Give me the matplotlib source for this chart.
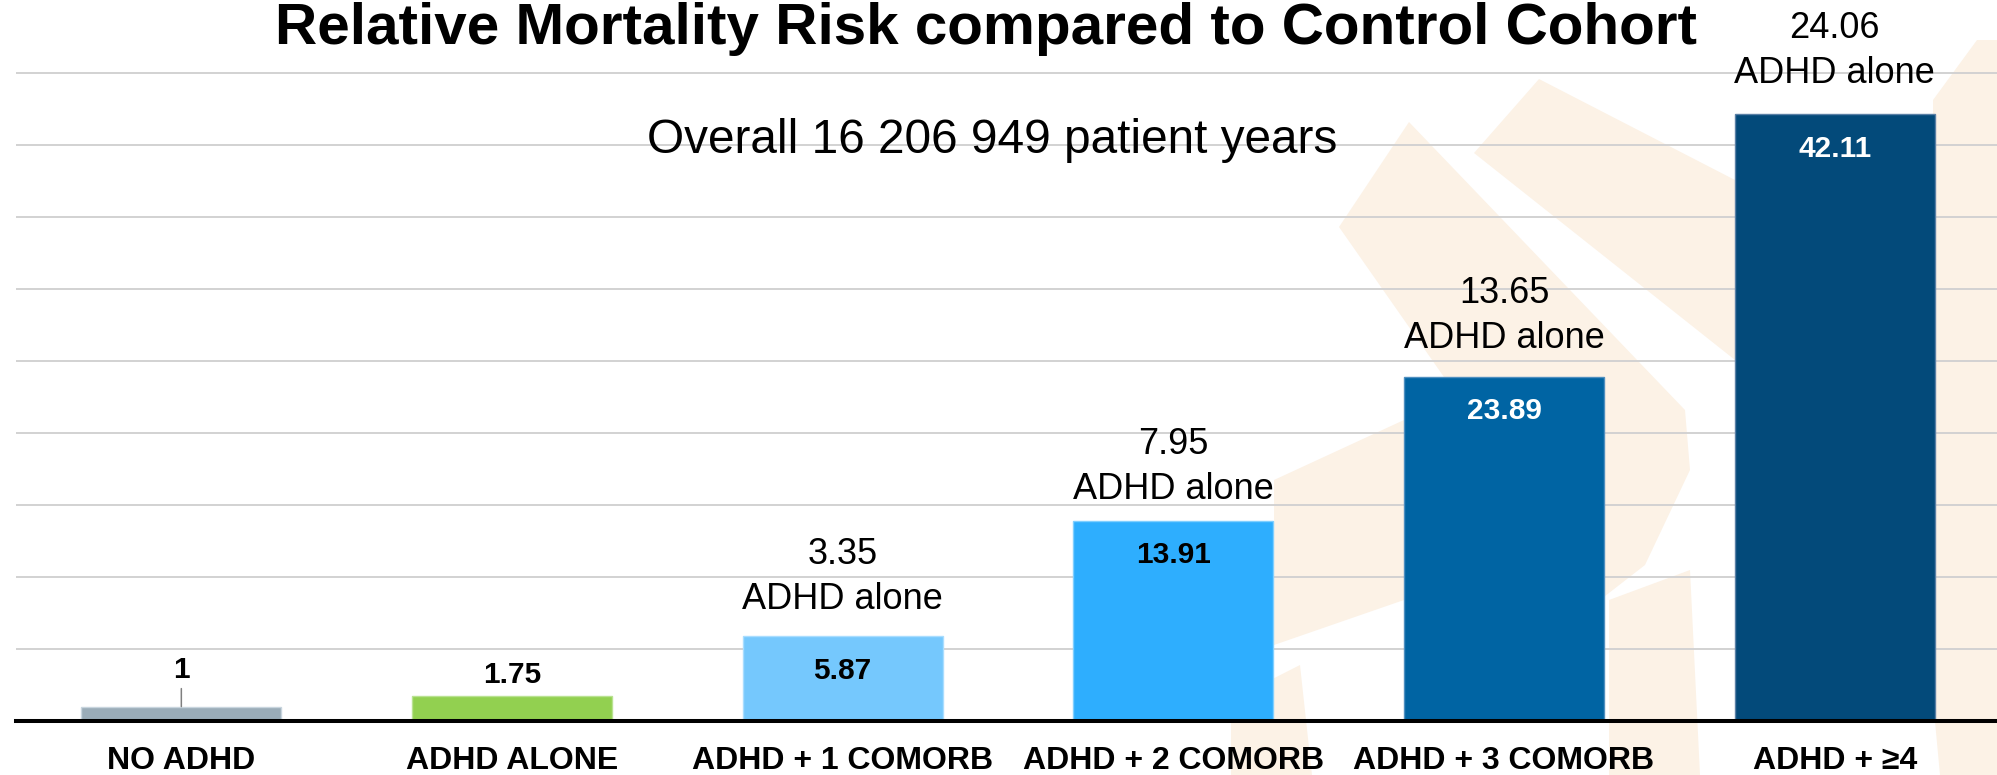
import matplotlib
matplotlib.use("Agg")
import matplotlib.pyplot as plt
from matplotlib.patches import Polygon

# ---------------- data ----------------
categories = ["NO ADHD", "ADHD ALONE", "ADHD + 1 COMORB", "ADHD + 2 COMORB",
              "ADHD + 3 COMORB", "ADHD + \u22654"]
relative_risk = [1.0, 1.75, 5.87, 13.91, 23.89, 42.11]
risk_labels = ["1", "1.75", "5.87", "13.91", "23.89", "42.11"]
adhd_alone_ratio = [None, None, "3.35", "7.95", "13.65", "24.06"]
title_text = "Relative Mortality Risk compared to Control Cohort"
subtitle_text = "Overall 16 206 949 patient years"
grid_ticks = [5, 10, 15, 20, 25, 30, 35, 40, 45]

# ---------------- style ----------------
bar_colors = ["#9aacb8", "#92d050", "#75c8fd", "#2eaefe", "#0064a3", "#034a7a"]
edge_colors = ["#c8d5de", "#b9e291", "#a9ddff", "#80cfff", "#4f8fc0", "#5a80a6"]
inside_text_colors = ["black", "black", "black", "black", "white", "white"]
FONT = ["Liberation Sans", "Arial", "DejaVu Sans"]
plt.rcParams["font.family"] = FONT

W, H = 1997, 775
fig = plt.figure(figsize=(W / 100, H / 100), dpi=100)
fig.patch.set_facecolor("white")

# faint background watermark (decorative), drawn in a pixel-space background axes
bg = fig.add_axes([0, 0, 1, 1], zorder=-1)
bg.set_xlim(0, W)
bg.set_ylim(H, 0)
bg.axis("off")
wm_color = "#fcf2e6"
wm_shapes = [
    [(1409, 122), (1339, 227), (1600, 600), (1645, 565), (1690, 470), (1685, 410)],
    [(1539, 79), (1474, 153), (1735, 360), (1735, 180)],
    [(1933, 100), (1977, 40), (1997, 40), (1997, 775), (1940, 775), (1933, 700)],
    [(1609, 600), (1690, 570), (1700, 775), (1609, 775)],
    [(1274, 480), (1404, 420), (1404, 600), (1274, 645)],
    [(1231, 700), (1300, 665), (1312, 775), (1231, 775)],
]
for shp in wm_shapes:
    bg.add_patch(Polygon(shp, closed=True, facecolor=wm_color, edgecolor="none"))

# axes geometry (pixel based)
base_y = 721.0
scale = 14.41          # px per unit
ytop = 45.2
left_px, right_px = 16, 2000
ax = fig.add_axes([left_px / W, 1 - base_y / H,
                   (right_px - left_px) / W, ytop * scale / H], zorder=1)
ax.set_facecolor("none")
ax.set_xlim(-0.5, len(categories) - 0.5)
ax.set_ylim(0, ytop)

x = list(range(len(categories)))
bars = ax.bar(x, relative_risk, width=0.605, color=bar_colors,
              edgecolor=edge_colors, linewidth=1.0, zorder=3)

ax.set_yticks(grid_ticks)
ax.set_yticklabels([])
ax.yaxis.grid(True, color="#d2d2d2", linewidth=1.4, zorder=1)
ax.set_axisbelow(True)
ax.tick_params(axis="y", length=0)
for s in ["left", "right", "top"]:
    ax.spines[s].set_visible(False)
ax.spines["bottom"].set_linewidth(2.9)
ax.spines["bottom"].set_color("black")
ax.spines["bottom"].set_zorder(5)

ax.set_xticks(x)
ax.set_xticklabels(categories, fontsize=23, fontweight="bold", family=FONT)
ax.tick_params(axis="x", length=0, pad=18)

# value labels
above_offsets = [28.6, 12.8]
for i in range(2):
    ax.annotate(risk_labels[i], xy=(i, relative_risk[i]), xytext=(0, above_offsets[i]),
                textcoords="offset pixels", ha="center", va="baseline",
                fontsize=21.5, fontweight="bold", color="black", zorder=6)
# leader line for first bar
ax.annotate("", xy=(0, relative_risk[0]), xytext=(0, 18),
            textcoords="offset pixels",
            arrowprops=dict(arrowstyle="-", color="#7f7f7f", lw=1.1,
                            shrinkA=0, shrinkB=0), zorder=6)

for i in range(2, len(categories)):
    ax.annotate(risk_labels[i], xy=(i, relative_risk[i]), xytext=(0, -42.5),
                textcoords="offset pixels", ha="center", va="baseline",
                fontsize=21.5, fontweight="bold", color=inside_text_colors[i], zorder=6)

upper_gap = [None, None, 27, 21.6, 28.4, 31]
for i in range(2, len(categories)):
    ax.annotate("ADHD alone", xy=(i, relative_risk[i]), xytext=(0, upper_gap[i]),
                textcoords="offset pixels", ha="center", va="baseline",
                fontsize=26, color="black", annotation_clip=False, zorder=6)
    ax.annotate(adhd_alone_ratio[i], xy=(i, relative_risk[i]), xytext=(0, upper_gap[i] + 45),
                textcoords="offset pixels", ha="center", va="baseline",
                fontsize=26, color="black", annotation_clip=False, zorder=6)

fig.text(986 / W, 1 - 43.5 / H, title_text, ha="center", va="baseline",
         fontsize=42, fontweight="bold", color="black", zorder=6)
fig.text(992.5 / W, 1 - 153.3 / H, subtitle_text, ha="center", va="baseline",
         fontsize=34.4, color="black", zorder=6)

fig.savefig("out.png", dpi=100, facecolor="white")
